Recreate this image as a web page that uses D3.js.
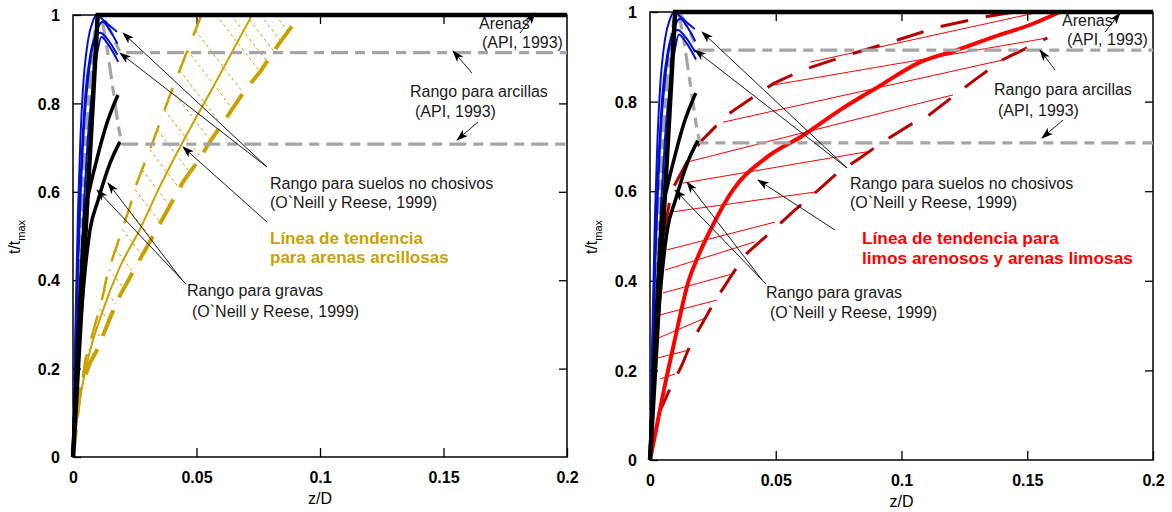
<!DOCTYPE html>
<html>
<head>
<meta charset="utf-8">
<script src="https://cdn.jsdelivr.net/npm/d3@7"></script>
<style>
  body { margin: 0; background: #fff; }
  svg { display: block; }
  text { font-family: "Liberation Sans", Arial, sans-serif; }
</style>
</head>
<body>
<svg id="chart" width="1172" height="512"></svg>
<script>
// ---------- Axis ticks ----------
const xTicks = [0, 0.05, 0.1, 0.15, 0.2];
const xTickLabels = ["0", "0.05", "0.1", "0.15", "0.2"];
const yTicks = [0, 0.2, 0.4, 0.6, 0.8, 1];
const yTickLabels = ["0", "0.2", "0.4", "0.6", "0.8", "1"];

// ---------- Curves shared by both panels (z/D, t/tmax) ----------
// API (1993) sands
const arenasZ = [0, 0.01, 0.2];
const arenasT = [0, 1, 1];
// API (1993) clays, upper and lower residual branch
const arcillaAltaZ = [0, 0.001, 0.002, 0.004, 0.006, 0.008, 0.011, 0.015, 0.02, 0.2];
const arcillaAltaT = [0, 0.18, 0.35, 0.6, 0.78, 0.92, 1.0, 0.965, 0.915, 0.915];
const arcillaBajaZ = [0, 0.001, 0.002, 0.004, 0.006, 0.008, 0.011, 0.013, 0.016, 0.019, 0.02, 0.2];
const arcillaBajaT = [0, 0.18, 0.35, 0.6, 0.78, 0.92, 1.0, 0.95, 0.84, 0.73, 0.708, 0.708];
// O'Neill & Reese (1999) cohesionless soils
const noCohesivo1Z = [0, 0.001, 0.002, 0.003, 0.004, 0.006, 0.008, 0.0095, 0.012, 0.015, 0.0178];
const noCohesivo1T = [0, 0.3, 0.55, 0.72, 0.83, 0.94, 0.985, 1.0, 0.99, 0.975, 0.962];
const noCohesivo2Z = [0, 0.001, 0.002, 0.003, 0.0045, 0.006, 0.008, 0.010, 0.012, 0.015, 0.018];
const noCohesivo2T = [0, 0.22, 0.42, 0.58, 0.75, 0.85, 0.93, 0.97, 0.985, 0.965, 0.935];
const noCohesivo3Z = [0, 0.001, 0.002, 0.0035, 0.005, 0.007, 0.009, 0.011, 0.014, 0.018];
const noCohesivo3T = [0, 0.25, 0.47, 0.68, 0.82, 0.91, 0.95, 0.96, 0.945, 0.91];
const noCohesivo4Z = [0, 0.0015, 0.003, 0.0045, 0.006, 0.008, 0.010, 0.0115, 0.014, 0.0183];
const noCohesivo4T = [0, 0.2, 0.4, 0.58, 0.72, 0.84, 0.92, 0.95, 0.935, 0.894];
// O'Neill & Reese (1999) gravels
const grava1Z = [0, 0.001, 0.0025, 0.0049, 0.0069, 0.0095, 0.0117, 0.014, 0.016, 0.0182];
const grava1T = [0, 0.15, 0.33, 0.552, 0.61, 0.67, 0.717, 0.76, 0.79, 0.819];
const grava2Z = [0, 0.001, 0.0025, 0.0045, 0.0069, 0.0101, 0.015, 0.019];
const grava2T = [0, 0.12, 0.26, 0.4, 0.514, 0.58, 0.665, 0.713];

// ---------- Clayey sands (left panel) ----------
const arcillosaSupZ = [0, 0.002, 0.005, 0.0117, 0.014, 0.023, 0.026, 0.032, 0.040, 0.046, 0.052];
const arcillosaSupT = [0, 0.1, 0.22, 0.355, 0.416, 0.566, 0.622, 0.708, 0.83, 0.915, 1.0];
const arcillosaTendZ = [0, 0.002, 0.006, 0.012, 0.019, 0.027, 0.035, 0.044, 0.058, 0.0725];
const arcillosaTendT = [0, 0.1, 0.22, 0.33, 0.43, 0.514, 0.61, 0.708, 0.85, 1.0];
const arcillosaInfZ = [0, 0.0028, 0.0069, 0.0097, 0.015, 0.018, 0.0243, 0.039, 0.0445, 0.050, 0.0567, 0.0623, 0.0696, 0.0757, 0.083, 0.092];
const arcillosaInfT = [0, 0.152, 0.213, 0.242, 0.314, 0.355, 0.419, 0.566, 0.622, 0.665, 0.724, 0.769, 0.83, 0.871, 0.932, 1.0];
// hatch lines start on the upper bound at these t/tmax values ...
const arcillosaRayadoT = [0.2, 0.245, 0.29, 0.335, 0.38, 0.425, 0.47, 0.515, 0.56, 0.605, 0.65, 0.695, 0.74, 0.785, 0.83, 0.875, 0.92, 0.965];
// ... and, above the bound, on the t/tmax = 1 line at these z/D values
const arcillosaRayadoZ = [0.058, 0.064, 0.070, 0.076, 0.082];

// ---------- Silty sands / sandy silts (right panel) ----------
const limosaTendZ = [0, 0.0008, 0.0066, 0.0107, 0.0151, 0.019, 0.0246, 0.033, 0.0465, 0.061, 0.0755, 0.0913, 0.1066, 0.122, 0.137, 0.151, 0.163];
const limosaTendT = [0, 0.022, 0.185, 0.29, 0.395, 0.453, 0.52, 0.603, 0.676, 0.725, 0.781, 0.835, 0.886, 0.915, 0.945, 0.971, 1.0];
const limosaSupZ = [0, 0.002, 0.004, 0.006, 0.0085, 0.0147, 0.02, 0.0306, 0.041, 0.049, 0.0605, 0.0787, 0.097, 0.115, 0.134, 0.145];
const limosaSupT = [0, 0.2, 0.38, 0.52, 0.6, 0.665, 0.71, 0.77, 0.81, 0.84, 0.87, 0.904, 0.935, 0.967, 0.99, 1.0];
const limosaInfZ = [0, 0.0012, 0.0072, 0.0127, 0.016, 0.022, 0.026, 0.033, 0.0386, 0.0477, 0.057, 0.066, 0.0744, 0.0835, 0.0926, 0.1034, 0.1105, 0.1213, 0.129, 0.14, 0.15, 0.158];
const limosaInfT = [0, 0.074, 0.15, 0.212, 0.257, 0.317, 0.357, 0.417, 0.462, 0.507, 0.555, 0.598, 0.64, 0.674, 0.71, 0.748, 0.768, 0.815, 0.848, 0.893, 0.92, 0.942];
// hatch segments [z0, t0, z1, t1]
const limosaRayado = [
  [0.004, 0.181, 0.010, 0.192],
  [0.0032, 0.228, 0.016, 0.246],
  [0.0032, 0.272, 0.0219, 0.317],
  [0.004, 0.324, 0.0266, 0.357],
  [0.0052, 0.373, 0.0338, 0.417],
  [0.006, 0.424, 0.0417, 0.487],
  [0.0068, 0.469, 0.0497, 0.531],
  [0.0091, 0.554, 0.0656, 0.598],
  [0.0131, 0.618, 0.0863, 0.688],
  [0.0147, 0.665, 0.1205, 0.815],
  [0.029, 0.754, 0.1404, 0.893],
  [0.0469, 0.835, 0.158, 0.942],
  [0.0636, 0.888, 0.155, 1.0]
];

// ---------- Drawing ----------
const svg = d3.select("#chart");
const zip = (zs, ts) => zs.map((z, i) => [z, ts[i]]);

const defs = svg.append("defs");
defs.append("marker")
  .attr("id", "punta")
  .attr("viewBox", "0 0 12 8")
  .attr("refX", 11).attr("refY", 4)
  .attr("markerWidth", 12).attr("markerHeight", 8)
  .attr("markerUnits", "userSpaceOnUse")
  .attr("orient", "auto")
  .append("path").attr("d", "M0,0 L12,4 L0,8 L3,4 Z").attr("fill", "#000");

const panels = [
  { box: { l: 73, r: 567, b: 457, t: 15 }, tipo: "arcillosa" },
  { box: { l: 650, r: 1153, b: 460, t: 12 }, tipo: "limosa" }
];

// first crossing of a ray (x0,y0)+s(dx,dy) with a pixel polyline
function crossing(x0, y0, dx, dy, poly) {
  for (let i = 0; i < poly.length - 1; i++) {
    const [ax, ay] = poly[i], [bx, by] = poly[i + 1];
    const ex = bx - ax, ey = by - ay;
    const den = dx * ey - dy * ex;
    if (Math.abs(den) < 1e-9) continue;
    const s = ((ax - x0) * ey - (ay - y0) * ex) / den;
    const u = ((ax - x0) * dy - (ay - y0) * dx) / den;
    if (s > 0 && u >= 0 && u <= 1) return [x0 + s * dx, y0 + s * dy];
  }
  return null;
}

panels.forEach(p => {
  const x = d3.scaleLinear().domain([0, 0.2]).range([p.box.l, p.box.r]);
  const y = d3.scaleLinear().domain([0, 1]).range([p.box.b, p.box.t]);
  const g = svg.append("g");
  const line = d3.line().x(d => x(d[0])).y(d => y(d[1])).curve(d3.curveMonotoneX);
  const linePlain = d3.line().x(d => x(d[0])).y(d => y(d[1]));

  // frame
  g.append("rect")
    .attr("x", p.box.l).attr("y", p.box.t)
    .attr("width", p.box.r - p.box.l).attr("height", p.box.b - p.box.t)
    .attr("fill", "none").attr("stroke", "#000").attr("stroke-width", 1.5);

  // axes with inward ticks
  const fmtX = d => xTickLabels[xTicks.indexOf(d)];
  const fmtY = d => yTickLabels[yTicks.indexOf(d)];
  const axB = g.append("g").attr("transform", `translate(0,${p.box.b})`)
    .call(d3.axisBottom(x).tickValues(xTicks).tickFormat(fmtX).tickSizeInner(-9).tickSizeOuter(0).tickPadding(15));
  const axT = g.append("g").attr("transform", `translate(0,${p.box.t})`)
    .call(d3.axisTop(x).tickValues(xTicks.slice(1, -1)).tickFormat("").tickSizeInner(-9).tickSizeOuter(0));
  const axL = g.append("g").attr("transform", `translate(${p.box.l},0)`)
    .call(d3.axisLeft(y).tickValues(yTicks).tickFormat(fmtY).tickSizeInner(-8).tickSizeOuter(0).tickPadding(13));
  const axR = g.append("g").attr("transform", `translate(${p.box.r},0)`)
    .call(d3.axisRight(y).tickValues(yTicks.slice(1, -1)).tickFormat("").tickSizeInner(-8).tickSizeOuter(0));
  [axB, axT, axL, axR].forEach(a => {
    a.select(".domain").remove();
    a.selectAll(".tick line").attr("stroke", "#000").attr("stroke-width", 1.3);
    a.selectAll(".tick text").attr("font-size", 16).attr("font-weight", "bold").attr("fill", "#000")
      .attr("font-family", "'Liberation Sans', Arial, sans-serif");
  });
  axL.selectAll(".tick text").attr("dy", "0.36em");

  // axis titles
  g.append("text")
    .attr("x", (p.box.l + p.box.r) / 2).attr("y", p.box.b + 47)
    .attr("text-anchor", "middle").attr("font-size", 16).text("z/D");
  const yl = g.append("text")
    .attr("transform", `translate(${p.box.l - 53},${(p.box.t + p.box.b) / 2 + 1}) rotate(-90)`)
    .attr("text-anchor", "middle").attr("font-size", 16);
  yl.append("tspan").text("t/t");
  yl.append("tspan").attr("font-size", 11).attr("dy", 5).text("max");

  // soil-specific band
  if (p.tipo === "arcillosa") {
    const oro = "#C9A200";
    const sup = zip(arcillosaSupZ, arcillosaSupT);
    const inf = zip(arcillosaInfZ, arcillosaInfT);
    // dotted hatch sloping down-right until it meets the lower bound
    const infPx = inf.map(d => [x(d[0]), y(d[1])]);
    const zAtT = d3.scaleLinear().domain(arcillosaSupT).range(arcillosaSupZ);
    const starts = arcillosaRayadoT.map(t => [x(zAtT(t)), y(t)])
      .concat(arcillosaRayadoZ.map(z => [x(z), y(1)]));
    starts.forEach(([x0, y0]) => {
      const hit = crossing(x0, y0, 1, 1.3, infPx);
      if (hit) {
        g.append("line").attr("x1", x0).attr("y1", y0).attr("x2", hit[0]).attr("y2", hit[1])
          .attr("stroke", oro).attr("stroke-width", 1).attr("stroke-dasharray", "3,3");
      }
    });
    g.append("path").attr("d", linePlain(sup)).attr("fill", "none")
      .attr("stroke", oro).attr("stroke-width", 2.5).attr("stroke-dasharray", "24,16");
    g.append("path").attr("d", linePlain(inf)).attr("fill", "none")
      .attr("stroke", oro).attr("stroke-width", 4).attr("stroke-dasharray", "28,14");
    g.append("path").attr("d", line(zip(arcillosaTendZ, arcillosaTendT))).attr("fill", "none")
      .attr("stroke", oro).attr("stroke-width", 2);
  } else {
    limosaRayado.forEach(s => {
      g.append("line").attr("x1", x(s[0])).attr("y1", y(s[1])).attr("x2", x(s[2])).attr("y2", y(s[3]))
        .attr("stroke", "#FF0000").attr("stroke-width", 1);
    });
    g.append("path").attr("d", linePlain(zip(limosaSupZ, limosaSupT))).attr("fill", "none")
      .attr("stroke", "#B40000").attr("stroke-width", 3).attr("stroke-dasharray", "28,18");
    g.append("path").attr("d", linePlain(zip(limosaInfZ, limosaInfT))).attr("fill", "none")
      .attr("stroke", "#B40000").attr("stroke-width", 3).attr("stroke-dasharray", "28,18");
    g.append("path").attr("d", line(zip(limosaTendZ, limosaTendT))).attr("fill", "none")
      .attr("stroke", "#FF0000").attr("stroke-width", 4);
  }

  // API clays
  [zip(arcillaAltaZ, arcillaAltaT), zip(arcillaBajaZ, arcillaBajaT)].forEach(c => {
    g.append("path").attr("d", line(c)).attr("fill", "none")
      .attr("stroke", "#A5A5A5").attr("stroke-width", 3.2).attr("stroke-dasharray", "17,7,10,7");
  });
  // cohesionless soils
  [[noCohesivo1Z, noCohesivo1T], [noCohesivo2Z, noCohesivo2T], [noCohesivo3Z, noCohesivo3T], [noCohesivo4Z, noCohesivo4T]]
    .forEach(([zs, ts]) => {
      g.append("path").attr("d", line(zip(zs, ts))).attr("fill", "none")
        .attr("stroke", "#0010D0").attr("stroke-width", 2);
    });
  // gravels
  [[grava1Z, grava1T], [grava2Z, grava2T]].forEach(([zs, ts]) => {
    g.append("path").attr("d", line(zip(zs, ts))).attr("fill", "none")
      .attr("stroke", "#000").attr("stroke-width", 3.5);
  });
  // API sands
  g.append("path").attr("d", linePlain(zip(arenasZ, arenasT))).attr("fill", "none")
    .attr("stroke", "#000").attr("stroke-width", 4.5);
});

// ---------- Annotations ----------
function label(x, y, lines, opts = {}) {
  const t = svg.append("text").attr("font-size", opts.size || 16)
    .attr("fill", opts.color || "#1a1a1a").attr("font-weight", opts.bold ? "bold" : "normal");
  lines.forEach((s, i) => t.append("tspan").attr("x", x + (opts.indent && i ? opts.indent : 0)).attr("y", y + i * (opts.lh || 19)).text(s));
}
function arrow(x1, y1, x2, y2) {
  svg.append("line").attr("x1", x1).attr("y1", y1).attr("x2", x2).attr("y2", y2)
    .attr("stroke", "#000").attr("stroke-width", 0.9).attr("marker-end", "url(#punta)");
}

// left panel
label(479, 29, ["Arenas"]);
label(482, 48, ["(API, 1993)"]);
arrow(520, 33, 535, 13);
label(410, 97, ["Rango para arcillas", "(API, 1993)"], { indent: 5, lh: 20 });
arrow(472, 73, 453, 51);
arrow(478, 122, 457, 140);
label(270, 189, ["Rango para suelos no chosivos", "(O`Neill y Reese, 1999)"], { lh: 19 });
arrow(267, 167, 123, 33);
arrow(267, 167, 120, 53);
label(270, 244, ["Línea de tendencia", "para arenas arcillosas"], { bold: true, color: "#C9A200", lh: 19, size: 17 });
arrow(267, 222, 183, 147);
label(187, 296, ["Rango para gravas", "(O`Neill y Reese, 1999)"], { indent: 5, lh: 21 });
arrow(186, 284, 97, 190);
arrow(182, 280, 108, 183);

// right panel
label(1062, 26, ["Arenas"]);
label(1067, 45, ["(API, 1993)"]);
arrow(1105, 32, 1120, 13);
label(994, 95, ["Rango para arcillas", "(API, 1993)"], { indent: 4, lh: 21 });
arrow(1055, 70, 1040, 50);
arrow(1063, 120, 1042, 138);
label(850, 189, ["Rango para suelos no chosivos", "(O`Neill y Reese, 1999)"], { lh: 19 });
arrow(847, 168, 702, 32);
arrow(847, 168, 695, 50);
label(862, 244, ["Línea de tendencia para", "limos arenosos y arenas limosas"], { bold: true, color: "#FF0000", lh: 20, size: 17.3 });
arrow(835, 230, 758, 180);
label(766, 298, ["Rango para gravas", "(O`Neill y Reese, 1999)"], { indent: 4, lh: 20 });
arrow(766, 284, 675, 190);
arrow(762, 280, 687, 182);
</script>
</body>
</html>
